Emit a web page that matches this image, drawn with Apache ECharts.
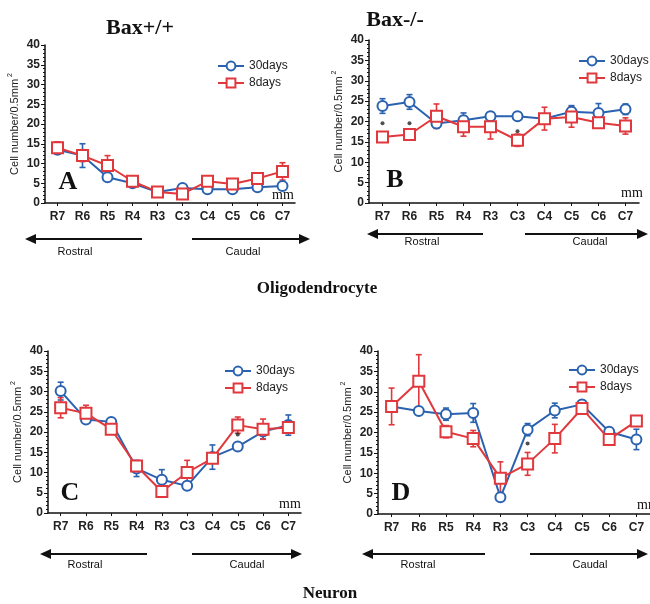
<!DOCTYPE html>
<html>
<head>
<meta charset="utf-8">
<script src="https://cdn.jsdelivr.net/npm/echarts@6/dist/echarts.min.js"></script>
<style>
  html, body { margin: 0; padding: 0; background: #fff; }
  #chart { width: 650px; height: 604px; }
</style>
</head>
<body>
<div id="chart"></div>
<script>
// 分段（吻側 → 尾側）
var categories = ["R7", "R6", "R5", "R4", "R3", "C3", "C4", "C5", "C6", "C7"];
var yTicks = [0, 5, 10, 15, 20, 25, 30, 35, 40];

// A: Bax+/+ oligodendrocyte
var a30 = [13.5, 12, 6.5, 5, 2.8, 3.8, 3.5, 3.5, 4, 4.3];
var a30Err = [0.8, 3, 0.8, 0.5, 0.4, 0.6, 0.5, 0.5, 0.5, 0.8];
var a8 = [14, 12, 9.5, 5.5, 2.8, 2.3, 5.5, 4.8, 6.2, 8];
var a8Err = [1.5, 1.5, 2.5, 0.6, 0.4, 0.6, 1, 0.8, 1, 2.2];
var aStar = [];

// B: Bax-/- oligodendrocyte
var b30 = [23.8, 24.8, 19.5, 20.3, 21.3, 21.3, 20.7, 22.4, 22.1, 23];
var b30Err = [1.8, 1.8, 1, 1.8, 1, 1, 1, 1.5, 2.3, 1.3];
var b8 = [16.2, 16.8, 21.3, 18.7, 18.7, 15.4, 20.7, 21.1, 19.7, 18.9];
var b8Err = [1, 1, 3, 2.3, 3, 1.5, 2.8, 2.5, 1.2, 2];
var bStar = [[0, 19.6], [1, 19.6], [5, 17.6]];

// C: Bax+/+ neuron
var c30 = [30.1, 23.1, 22.5, 11, 8.2, 6.7, 13.8, 16.4, 20.1, 21.7];
var c30Err = [2.2, 0.8, 0.8, 2, 2.5, 0.8, 3, 0.8, 1.8, 2.5];
var c8 = [26, 24.6, 20.7, 11.6, 5.3, 10, 13.5, 21.7, 20.7, 21.1];
var c8Err = [2.5, 2, 0.8, 1, 1, 3, 1.2, 2, 2.5, 1];
var cStar = [[7, 19.4]];

// D: Bax-/- neuron
var d30 = [26.4, 25.3, 24.5, 24.8, 4.1, 20.7, 25.4, 26.9, 20.2, 18.3];
var d30Err = [1, 0.8, 1.5, 2.3, 0.6, 1.5, 1.8, 1, 0.8, 2.5];
var d8 = [26.4, 32.6, 20.2, 18.5, 8.8, 12.3, 18.5, 25.9, 18.3, 22.8];
var d8Err = [4.5, 6.5, 1.5, 2, 4, 2.8, 3.5, 1, 1, 1];
var dStar = [[5, 17.3]];

var BLUE = "#2a62b0";
var RED = "#e0383c";
var SANS = "Liberation Sans";
var SERIF = "Liberation Serif";

var panels = [
    { s30: a30, e30: a30Err, s8: a8, e8: a8Err, star: aStar,
      grid: { left: 45, top: 45, width: 250, height: 158 },
      legend: { left: 212, top: 55 } },
    { s30: b30, e30: b30Err, s8: b8, e8: b8Err, star: bStar,
      grid: { left: 369, top: 40, width: 270, height: 163 },
      legend: { left: 573, top: 50 } },
    { s30: c30, e30: c30Err, s8: c8, e8: c8Err, star: cStar,
      grid: { left: 48, top: 351, width: 253, height: 162 },
      legend: { left: 219, top: 360 } },
    { s30: d30, e30: d30Err, s8: d8, e8: d8Err, star: dStar,
      grid: { left: 378, top: 351, width: 279, height: 163 },
      legend: { left: 563, top: 359 } }
];

function errData(vals, errs) {
    return vals.map(function (v, i) { return [i, v - errs[i], v + errs[i]]; });
}

function errRenderer(color) {
    return function (params, api) {
        var lo = api.coord([api.value(0), api.value(1)]);
        var hi = api.coord([api.value(0), api.value(2)]);
        var w = 3;
        var st = { stroke: color, lineWidth: 1.6 };
        return {
            type: "group",
            children: [
                { type: "line", shape: { x1: lo[0], y1: lo[1], x2: hi[0], y2: hi[1] }, style: st },
                { type: "line", shape: { x1: hi[0] - w, y1: hi[1], x2: hi[0] + w, y2: hi[1] }, style: st },
                { type: "line", shape: { x1: lo[0] - w, y1: lo[1], x2: lo[0] + w, y2: lo[1] }, style: st }
            ]
        };
    };
}

var grids = [], xAxes = [], yAxes = [], series = [], legends = [];

panels.forEach(function (p, k) {
    grids.push(p.grid);
    xAxes.push({
        type: "category", gridIndex: k, data: categories,
        axisLine: { lineStyle: { color: "#111", width: 1.5 } },
        axisTick: { show: true, alignWithLabel: true, length: 3, lineStyle: { color: "#111" } },
        axisLabel: { color: "#222", fontFamily: SANS, fontSize: 12, fontWeight: "bold", margin: 8 }
    });
    yAxes.push({
        type: "value", gridIndex: k, min: yTicks[0], max: yTicks[yTicks.length - 1], interval: 5,
        name: "Cell number/0.5mm{sup|2}",
        nameLocation: "middle", nameRotate: 90, nameGap: 23,
        nameTextStyle: {
            fontFamily: SANS, fontSize: 11, color: "#222",
            rich: { sup: { fontSize: 7, fontFamily: SANS, color: "#222", padding: [0, 0, 8, 2] } }
        },
        splitLine: { show: false },
        axisLine: { show: true, lineStyle: { color: "#111", width: 1.5 } },
        axisTick: { show: true, length: 4, lineStyle: { color: "#111" } },
        minorTick: { show: true, splitNumber: 5, length: 2, lineStyle: { color: "#111" } },
        axisLabel: { color: "#222", fontFamily: SANS, fontSize: 12, fontWeight: "bold", margin: 5 }
    });

    series.push({
        type: "custom", name: "err30", xAxisIndex: k, yAxisIndex: k,
        renderItem: errRenderer(BLUE), data: errData(p.s30, p.e30), z: 1, silent: true
    });
    series.push({
        type: "custom", name: "err8", xAxisIndex: k, yAxisIndex: k,
        renderItem: errRenderer(RED), data: errData(p.s8, p.e8), z: 1, silent: true
    });
    series.push({
        type: "line", name: "30days", xAxisIndex: k, yAxisIndex: k, data: p.s30,
        symbol: "circle", symbolSize: 10, z: 3,
        lineStyle: { color: BLUE, width: 2 },
        itemStyle: { color: "#fff", borderColor: BLUE, borderWidth: 2 }
    });
    series.push({
        type: "line", name: "8days", xAxisIndex: k, yAxisIndex: k, data: p.s8,
        symbol: "rect", symbolSize: 11, z: 4,
        lineStyle: { color: RED, width: 2 },
        itemStyle: { color: "#fff", borderColor: RED, borderWidth: 2 }
    });
    series.push({
        type: "scatter", name: "star", xAxisIndex: k, yAxisIndex: k, data: p.star,
        symbol: "circle", symbolSize: 4, itemStyle: { color: "#222" }, z: 5
    });

    legends.push({
        data: ["30days", "8days"], orient: "vertical",
        left: p.legend.left, top: p.legend.top, itemGap: 5,
        itemWidth: 26, itemHeight: 11,
        textStyle: { fontFamily: SANS, fontSize: 12, color: "#222" }
    });
});

// 箭頭（吻側 / 尾側）
function arrow(x1, x2, y) {
    var dir = x2 > x1 ? 1 : -1;
    return [
        { type: "line", shape: { x1: x1, y1: y, x2: x2 - dir * 9, y2: y }, style: { stroke: "#111", lineWidth: 2 } },
        { type: "polygon", shape: { points: [[x2, y], [x2 - dir * 11, y - 5], [x2 - dir * 11, y + 5]] }, style: { fill: "#111" } }
    ];
}

function txt(x, y, s, size, font, bold, align) {
    return {
        type: "text", x: x, y: y,
        style: {
            text: s, fontFamily: font, fontSize: size, fontWeight: bold ? "bold" : "normal",
            fill: "#111", align: align || "center", verticalAlign: "middle"
        }
    };
}

var graphics = [].concat(
    arrow(142, 25, 239), arrow(192, 310, 239),
    arrow(483, 367, 234), arrow(525, 648, 234),
    arrow(147, 40, 554), arrow(192, 302, 554),
    arrow(485, 362, 554), arrow(530, 648, 554),
    [
        txt(140, 28, "Bax+/+", 22, SERIF, true),
        txt(395, 20, "Bax-/-", 22, SERIF, true),
        txt(317, 289, "Oligodendrocyte", 17, SERIF, true),
        txt(330, 594, "Neuron", 17, SERIF, true),
        txt(68, 182, "A", 26, SERIF, true),
        txt(395, 180, "B", 26, SERIF, true),
        txt(70, 493, "C", 26, SERIF, true),
        txt(401, 493, "D", 26, SERIF, true),
        txt(283, 195, "mm", 14, SERIF, false),
        txt(632, 193, "mm", 14, SERIF, false),
        txt(290, 504, "mm", 14, SERIF, false),
        txt(648, 505, "mm", 14, SERIF, false),
        txt(75, 252, "Rostral", 11, SANS, false),
        txt(243, 252, "Caudal", 11, SANS, false),
        txt(422, 242, "Rostral", 11, SANS, false),
        txt(590, 242, "Caudal", 11, SANS, false),
        txt(85, 565, "Rostral", 11, SANS, false),
        txt(247, 565, "Caudal", 11, SANS, false),
        txt(418, 565, "Rostral", 11, SANS, false),
        txt(590, 565, "Caudal", 11, SANS, false)
    ]
);

var Chart = echarts.init(document.getElementById("chart"), null, { renderer: "canvas" });
Chart.setOption({
    backgroundColor: "#fff",
    animation: false,
    grid: grids,
    xAxis: xAxes,
    yAxis: yAxes,
    legend: legends,
    series: series,
    graphic: graphics
});
window.onresize = function () { Chart.resize(); };
</script>
</body>
</html>
